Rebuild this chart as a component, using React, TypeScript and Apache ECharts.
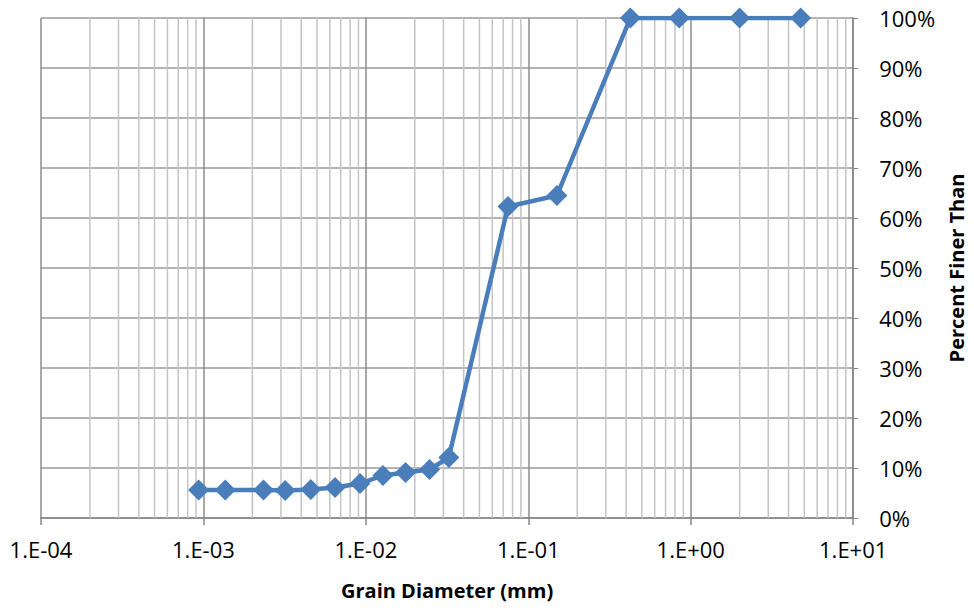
import React, { useEffect, useRef } from "react";
import * as echarts from "echarts";

const grainDiameterMm = [
  0.000934, 0.001363, 0.002344, 0.003186, 0.00458, 0.00646, 0.0092, 0.01274,
  0.01756, 0.02466, 0.0324, 0.075, 0.15, 0.425, 0.85, 2.0, 4.75,
];
const percentFiner = [
  0.056, 0.056, 0.056, 0.055, 0.057, 0.061, 0.069, 0.085, 0.091, 0.097, 0.121,
  0.623, 0.645, 1.0, 1.0, 1.0, 1.0,
];
const minorGridValues: number[] = [];
for (let d = -4; d <= 0; d++) {
  for (let k = 2; k <= 9; k++) minorGridValues.push(k * Math.pow(10, d));
}

const FONT = "'Open Sans', sans-serif";

export default function App() {
  const ref = useRef<HTMLDivElement>(null);
  useEffect(() => {
    if (!ref.current) return;
    const chart = echarts.init(ref.current, undefined, { renderer: "svg" });
    chart.setOption({
      animation: false,
      backgroundColor: "#ffffff",
      grid: { left: 41, right: 119, top: 18, bottom: 93 },
      xAxis: {
        type: "log",
        logBase: 10,
        min: 0.0001,
        max: 10,
        name: "Grain Diameter (mm)",
        nameLocation: "middle",
        nameGap: 62,
        nameTextStyle: { fontFamily: FONT, fontSize: 20, fontWeight: "bold", color: "#000" },
        axisLine: { show: true, lineStyle: { color: "#868686", width: 1.5 } },
        axisTick: { show: true, length: 7, lineStyle: { color: "#868686", width: 1.5 } },
        axisLabel: {
          margin: 20,
          fontFamily: FONT,
          fontSize: 22,
          color: "#000",
          formatter: (v: number) => {
            const e = Math.round(Math.log10(v));
            const s = e < 0 ? "-" : "+";
            return "1.E" + s + String(Math.abs(e)).padStart(2, "0");
          },
        },
        splitLine: { show: true, lineStyle: { color: "#8c8c8c", width: 1.5 } },
      },
      yAxis: {
        type: "value",
        position: "right",
        min: 0,
        max: 1,
        interval: 0.1,
        name: "Percent Finer Than",
        nameLocation: "middle",
        nameRotate: 90,
        nameGap: 92,
        nameTextStyle: { fontFamily: FONT, fontSize: 20, fontWeight: "bold", color: "#000" },
        axisLine: { show: true, lineStyle: { color: "#868686", width: 1.5 } },
        axisTick: { show: true, length: 5, lineStyle: { color: "#868686" } },
        axisLabel: {
          margin: 26,
          fontFamily: FONT,
          fontSize: 22,
          color: "#000",
          formatter: (v: number) => Math.round(v * 100) + "%",
        },
        splitLine: { show: true, lineStyle: { color: "#9a9a9a", width: 1.5 } },
      },
      series: [
        {
          type: "custom",
          silent: true,
          z: 1,
          data: minorGridValues.map((v) => [v, 0]),
          encode: { x: 0, y: 1 },
          renderItem: (_params: any, api: any) => {
            const v = api.value(0);
            const top = api.coord([v, 1]);
            const bot = api.coord([v, 0]);
            return {
              type: "line",
              shape: { x1: top[0], y1: top[1], x2: bot[0], y2: bot[1] },
              style: { stroke: "#c4c4c4", lineWidth: 1.5 },
            };
          },
        },
        {
          type: "line",
          z: 3,
          data: grainDiameterMm.map((x, i) => [x, percentFiner[i]]),
          symbol: "diamond",
          symbolSize: 21,
          lineStyle: { color: "#4a7ebb", width: 4.5 },
          itemStyle: { color: "#4a7ebb" },
        },
      ],
    });
    return () => chart.dispose();
  }, []);
  return <div ref={ref} style={{ width: 974, height: 611, position: "absolute", left: 0, top: 0 }} />;
}
